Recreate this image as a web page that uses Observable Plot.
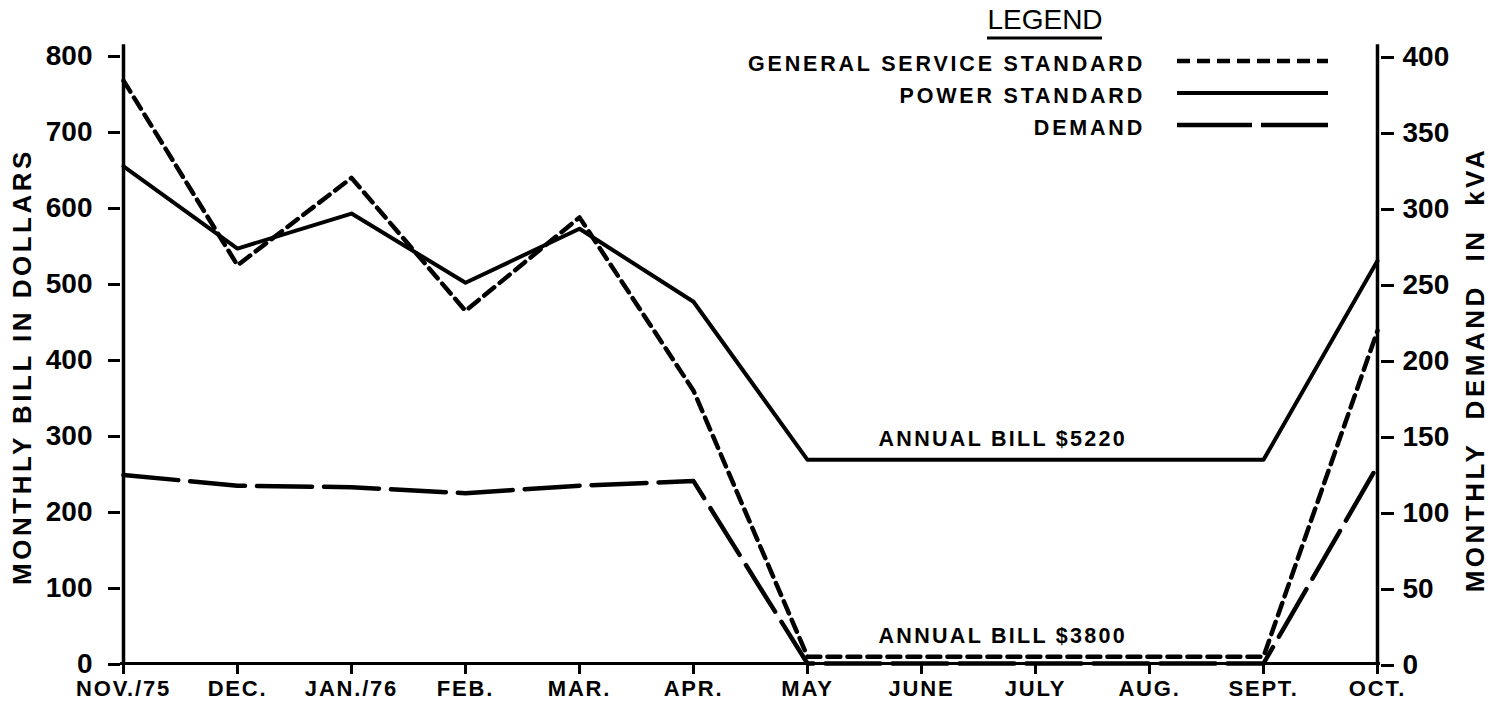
<!DOCTYPE html>
<html>
<head>
<meta charset="utf-8">
<script src="https://cdn.jsdelivr.net/npm/d3@7"></script>
<script src="https://cdn.jsdelivr.net/npm/@observablehq/plot@0.6"></script>
<style>
  body { margin: 0; background: #fff; }
  #chart { width: 1491px; height: 705px; }
  svg { font-family: "Liberation Sans", Arial, sans-serif; }
</style>
</head>
<body>
<div id="chart"></div>
<script>
// ---- data ----
const months = ["NOV./75", "DEC.", "JAN./76", "FEB.", "MAR.", "APR.", "MAY", "JUNE", "JULY", "AUG.", "SEPT.", "OCT."];
const generalService = [767, 524, 639, 464, 587, 359, 9, 9, 9, 9, 9, 438];      // dollars
const powerStandard  = [654, 546, 592, 501, 572, 476, 268, 268, 268, 268, 268, 530]; // dollars
const demandKVA      = [124, 117, 116, 112, 117, 120, 0, 0, 0, 0, 0, 130];       // kVA
const dollarTicks = [0, 100, 200, 300, 400, 500, 600, 700, 800];
const kvaTicks = [0, 50, 100, 150, 200, 250, 300, 350, 400];
const kvaToDollarAxis = 2; // 400 kVA on right axis aligns with $800 on left axis
const legendLabels = ["GENERAL SERVICE STANDARD", "POWER STANDARD", "DEMAND"];
const annotationLabels = ["ANNUAL BILL $5220", "ANNUAL BILL $3800"];
const leftTitle = "MONTHLY BILL IN DOLLARS";
const rightTitle = "MONTHLY DEMAND IN kVA";

const rows = months.map((m, i) => ({month: m, gs: generalService[i], power: powerStandard[i], demand: demandKVA[i]}));
const annotations = [
  {label: annotationLabels[0], month: "JUNE", value: powerStandard[7]},
  {label: annotationLabels[1], month: "JUNE", value: generalService[7]}
];

const font = "'Liberation Sans', Arial, sans-serif";

const chart = Plot.plot({
  width: 1491,
  height: 705,
  marginLeft: 120,
  marginRight: 111,
  marginTop: 55,
  marginBottom: 42,
  x: {type: "point", domain: months, padding: 0},
  y: {domain: [0, 800]},
  style: {fontFamily: font, fontWeight: "bold", color: "#000", background: "#fff", overflow: "visible"},
  marks: [
    Plot.axisY({ticks: dollarTicks, tickSize: 12, tickPadding: 16, strokeWidth: 3, fontSize: 28, label: null, dy: 1}),
    Plot.axisY({anchor: "right", ticks: kvaTicks.map(k => k * kvaToDollarAxis), tickFormat: d => d / kvaToDollarAxis,
      tickSize: 13, tickPadding: 9, strokeWidth: 3, fontSize: 28, label: null, dy: 2}),
    Plot.axisX({tickSize: 11, tickPadding: 6, strokeWidth: 3, fontSize: 22, label: null}),
    Plot.ruleY([0], {strokeWidth: 3}),
    Plot.ruleX([months[0], months[months.length - 1]], {y1: 0, y2: 814, strokeWidth: 3.5}),
    Plot.line(rows, {x: "month", y: "power", stroke: "#000", strokeWidth: 4}),
    Plot.line(rows, {x: "month", y: "gs", stroke: "#000", strokeWidth: 4.5, strokeDasharray: "13,7"}),
    Plot.line(rows, {x: "month", y: d => d.demand * kvaToDollarAxis, stroke: "#000", strokeWidth: 4.5, strokeDasharray: "55,12"}),
    Plot.text(annotations, {x: "month", y: "value", text: "label", textAnchor: "start", dx: -43, dy: -21, fontSize: 21.5, fontWeight: "bold"}),
    Plot.text([leftTitle], {frameAnchor: "left", textAnchor: "middle", rotate: -90, dx: -98, dy: 7, fontSize: 26, fontWeight: "bold"}),
    Plot.text([rightTitle], {frameAnchor: "right", textAnchor: "middle", rotate: -90, dx: 95, dy: 10, fontSize: 26, fontWeight: "bold"})
  ]
});

document.getElementById("chart").appendChild(chart);

const svg = d3.select(chart);
// letter spacing to mimic the original lettering
svg.selectAll('g[aria-label="x-axis tick label"] text').style("letter-spacing", "1.8px");
const textGroups = svg.selectAll('g[aria-label="text"]');
textGroups.filter((d, i) => i === 0).selectAll("text").style("letter-spacing", "2.3px");
textGroups.filter((d, i) => i === 1).selectAll("text").style("letter-spacing", "3.5px");
textGroups.filter((d, i) => i === 2).selectAll("text").style("letter-spacing", "3.5px").style("word-spacing", "12px");

// legend
const lg = svg.append("g").attr("font-family", font).attr("fill", "#000");
lg.append("text").text("LEGEND").attr("x", 1045).attr("y", 29).attr("text-anchor", "middle")
  .attr("font-size", 28).attr("font-weight", "normal");
lg.append("line").attr("x1", 987).attr("x2", 1102).attr("y1", 38).attr("y2", 38).attr("stroke", "#000").attr("stroke-width", 3);
const sampleY = [61, 93, 125];
const dashes = ["13,7", null, "75,9"];
const widths = [4.5, 4, 4.5];
legendLabels.forEach((lab, i) => {
  lg.append("text").text(lab).attr("x", 1145).attr("y", sampleY[i] + 10).attr("text-anchor", "end")
    .attr("font-size", 21.5).attr("font-weight", "bold").style("letter-spacing", "2.8px");
  const l = lg.append("line").attr("x1", 1177).attr("x2", 1328).attr("y1", sampleY[i]).attr("y2", sampleY[i])
    .attr("stroke", "#000").attr("stroke-width", widths[i]);
  if (dashes[i]) l.attr("stroke-dasharray", dashes[i]);
});
</script>
</body>
</html>
